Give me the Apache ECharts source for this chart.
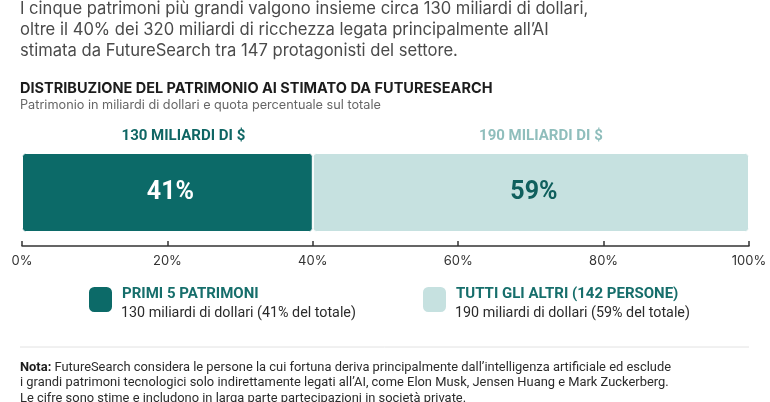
<!DOCTYPE html>
<html>
<head>
<meta charset="utf-8">
<script src="https://cdn.jsdelivr.net/npm/echarts@6/dist/echarts.min.js"></script>
<style>
  html, body { margin: 0; padding: 0; background: #ffffff; }
  #chart { width: 770px; height: 402px; }
</style>
</head>
<body>
<div id="chart"></div>
<script>
var dom = document.getElementById('chart');
var myChart = echarts.init(dom);

// data
var groups = ['PRIMI 5 PATRIMONI', 'TUTTI GLI ALTRI (142 PERSONE)'];
var shares = [40, 60];                 // bar lengths as drawn on the 0-100% axis
var shareLabels = ['41%', '59%'];
var amountLabels = ['130 MILIARDI DI $', '190 MILIARDI DI $'];
var legendNotes = ['130 miliardi di dollari (41% del totale)', '190 miliardi di dollari (59% del totale)'];
var tickValues = [0, 20, 40, 60, 80, 100];

var introLines = [
  'I cinque patrimoni più grandi valgono insieme circa 130 miliardi di dollari,',
  'oltre il 40% dei 320 miliardi di ricchezza legata principalmente all\u2019AI',
  'stimata da FutureSearch tra 147 protagonisti del settore.'
];
var noteLines = [
  'FutureSearch considera le persone la cui fortuna deriva principalmente dall\u2019intelligenza artificiale ed esclude',
  'i grandi patrimoni tecnologici solo indirettamente legati all\u2019AI, come Elon Musk, Jensen Huang e Mark Zuckerberg.',
  'Le cifre sono stime e includono in larga parte partecipazioni in società private.'
];

var DARK = '#0c6a68';
var LIGHT = '#c6e1e0';
var SANS = 'Inter, Roboto, sans-serif';
var NARROW = 'Roboto, sans-serif';

var option;

function legendBlock(i, left) {
  return {
    show: true,
    data: [groups[i]],
    left: left,
    top: 276.5,
    padding: 0,
    icon: 'roundRect',
    itemWidth: 25,
    itemHeight: 27,
    itemGap: 0,
    selectedMode: false,
    formatter: function (name) {
      return '{t|' + name + '}\n{s|' + legendNotes[groups.indexOf(name)] + '}';
    },
    textStyle: {
      lineHeight: 19,
      padding: [8, 0, 0, 0],
      rich: {
        t: { fontFamily: NARROW, fontWeight: 'bold', fontSize: 15, color: '#166e6b', lineHeight: 19, padding: [0, 0, 0, 4] },
        s: { fontFamily: NARROW, fontSize: 14.3, color: '#2b2b2b', lineHeight: 19, padding: [0, 0, 0, 3] }
      }
    }
  };
}

var graphics = [];
introLines.forEach(function (t, i) {
  graphics.push({
    type: 'text', left: 20, top: 0 + i * 21,
    style: { text: t, font: '16.6px ' + SANS, fill: '#4a4a4a' }
  });
});
graphics.push({
  type: 'text', left: 20, top: 81,
  style: { text: 'DISTRIBUZIONE DEL PATRIMONIO AI STIMATO DA FUTURESEARCH', font: 'bold 14.5px ' + SANS, fill: '#1c1c1c' }
});
graphics.push({
  type: 'text', left: 20, top: 99,
  style: { text: 'Patrimonio in miliardi di dollari e quota percentuale sul totale', font: '12.7px ' + SANS, fill: '#666666' }
});
graphics.push({
  type: 'line', shape: { x1: 20, y1: 347, x2: 749, y2: 347 },
  style: { stroke: '#e2e2e2', lineWidth: 1 }
});
noteLines.forEach(function (t, i) {
  graphics.push({
    type: 'text', left: 20, top: 361 + i * 15.5,
    style: {
      text: i === 0 ? '{b|Nota:} ' + t : t,
      font: '12.9px ' + NARROW, fill: '#2b2b2b',
      rich: { b: { font: 'bold 12.9px ' + NARROW, fill: '#1c1c1c' } }
    }
  });
});

option = {
  backgroundColor: '#ffffff',
  animation: false,
  grid: { left: 22, right: 21, top: 153, height: 79 },
  legend: [legendBlock(0, 87), legendBlock(1, 421)],
  xAxis: {
    type: 'value',
    min: 0,
    max: 100,
    interval: 20,
    offset: 14,
    axisLine: { show: true, lineStyle: { color: '#333333', width: 1.5 } },
    axisTick: { show: true, inside: true, length: 5, lineStyle: { color: '#333333', width: 1.5 } },
    splitLine: { show: false },
    axisLabel: {
      margin: 9,
      fontFamily: SANS,
      fontSize: 13,
      color: '#333333',
      formatter: function (v) { return tickValues.indexOf(v) >= 0 ? v + '%' : ''; }
    }
  },
  yAxis: {
    type: 'category',
    data: ['Patrimonio'],
    show: false
  },
  series: [
    {
      name: groups[0],
      type: 'bar',
      stack: 'tot',
      barWidth: 79,
      data: [shares[0]],
      itemStyle: { color: DARK, borderColor: '#ffffff', borderWidth: 1, borderRadius: 3 },
      label: {
        show: true, position: 'inside', offset: [3, 0],
        formatter: function () { return shareLabels[0]; },
        fontFamily: NARROW, fontWeight: 'bold', fontSize: 25, color: '#ffffff'
      }
    },
    {
      name: groups[1],
      type: 'bar',
      stack: 'tot',
      barWidth: 79,
      data: [shares[1]],
      itemStyle: { color: LIGHT, borderColor: '#ffffff', borderWidth: 1, borderRadius: 3 },
      label: {
        show: true, position: 'inside', offset: [3, 0],
        formatter: function () { return shareLabels[1]; },
        fontFamily: NARROW, fontWeight: 'bold', fontSize: 25, color: '#0f5f5d'
      }
    }
  ],
  graphic: graphics
};

if (option && typeof option === 'object') {
  myChart.setOption(option);

  // amount labels above each segment, placed through the axis scale
  var start = 0;
  var amountColors = ['#0f6664', '#8fbebc'];
  var amountShift = [16, 10];
  var extra = shares.map(function (v, i) {
    var mid = myChart.convertToPixel({ xAxisIndex: 0 }, start + v / 2);
    start += v;
    return {
      type: 'text', x: mid + amountShift[i], y: 136,
      style: {
        text: amountLabels[i], font: 'bold 15px ' + NARROW, fill: amountColors[i],
        align: 'center', verticalAlign: 'middle'
      }
    };
  });
  myChart.setOption({ graphic: graphics.concat(extra) });
}
</script>
</body>
</html>
